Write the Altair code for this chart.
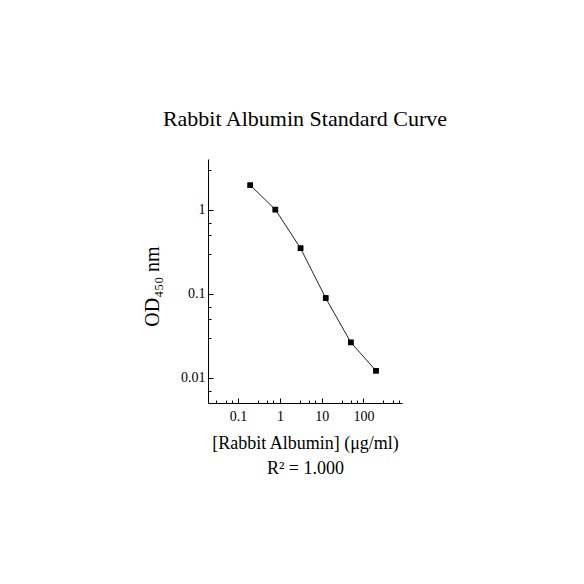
import altair as alt
import pandas as pd

# Data
conc = [0.195, 0.78, 3.125, 12.5, 50, 200]
od = [1.95, 1.0, 0.347, 0.0887, 0.0263, 0.0121]

x_major = [0.1, 1, 10, 100]
x_minor = [0.03, 0.05, 0.07, 0.3, 0.5, 0.7, 3, 5, 7, 30, 50, 70, 300, 500, 700]
y_major = [0.01, 0.1, 1]
y_minor = [0.007, 0.03, 0.05, 0.07, 0.3, 0.5, 0.7, 3]

title_text = "Rabbit Albumin Standard Curve"
x_title = ["[Rabbit Albumin] (\u03bcg/ml)", "R\u00b2 = 1.000"]
y_title = "OD\u2084\u2085\u2080 nm"

FONT = "Liberation Serif"
W, H = 194, 244

df = pd.DataFrame({"conc": conc, "od": od})

x_scale = alt.Scale(type="log", domain=[0.019, 840])
y_scale = alt.Scale(type="log", domain=[0.005, 4])

base = alt.Chart(df)

line = base.mark_line(color="#222222", strokeWidth=1, interpolate="linear").encode(
    x=alt.X("conc:Q", scale=x_scale,
            axis=alt.Axis(orient="bottom", values=x_major, format="~g", ticks=False, tickSize=0,
                          grid=False, domain=True, domainColor="black", domainWidth=1,
                          labelFont=FONT, labelFontSize=14, labelColor="black", labelPadding=6,
                          title=x_title, titleFont=FONT, titleFontSize=18, titleFontWeight="normal",
                          titleColor="black", titleBaseline="alphabetic", titleY=45,
                          titleLineHeight=25)),
    y=alt.Y("od:Q", scale=y_scale,
            axis=alt.Axis(orient="left", values=y_major, format="~g", ticks=False, tickSize=0,
                          grid=False, domain=True, domainColor="black", domainWidth=1,
                          labelFont=FONT, labelFontSize=14, labelColor="black", labelPadding=3,
                          title=y_title, titleFont=FONT, titleFontSize=20, titleFontWeight="normal",
                          titleColor="black", titleBaseline="alphabetic", titleX=-50, titleY=127,
                          titleAngle=270)),
)

points = base.mark_square(size=30, color="black", opacity=1).encode(
    x=alt.X("conc:Q", scale=x_scale,
            axis=alt.Axis(orient="top", offset=-H, values=x_major, labels=False, ticks=True,
                          tickSize=5, tickColor="black", tickWidth=1, domain=False, grid=False,
                          title=None)),
    y=alt.Y("od:Q", scale=y_scale,
            axis=alt.Axis(orient="right", offset=-W, values=y_major, labels=False, ticks=True,
                          tickSize=5, tickColor="black", tickWidth=1, domain=False, grid=False,
                          title=None)),
)

minor = base.mark_square(size=30, color="black", opacity=1).encode(
    x=alt.X("conc:Q", scale=x_scale,
            axis=alt.Axis(orient="top", offset=-H, values=x_minor, labels=False, ticks=True,
                          tickSize=3, tickColor="black", tickWidth=1, domain=False, grid=False,
                          title=None)),
    y=alt.Y("od:Q", scale=y_scale,
            axis=alt.Axis(orient="right", offset=-W, values=y_minor, labels=False, ticks=True,
                          tickSize=3, tickColor="black", tickWidth=1, domain=False, grid=False,
                          title=None)),
)

chart = alt.layer(line, points, minor).resolve_axis(x="independent", y="independent").properties(
    width=W, height=H,
    title=alt.TitleParams(title_text, font=FONT, fontSize=22, fontWeight="normal", color="black",
                          anchor="middle", frame="group", baseline="alphabetic", offset=11),
    autosize=alt.AutoSizeParams(type="none"),
    padding={"left": 200, "top": 151, "right": 174, "bottom": 173},
    background="white",
).configure_view(stroke=None)

chart.save("out.html", embed_options={"renderer": "svg", "actions": False})
